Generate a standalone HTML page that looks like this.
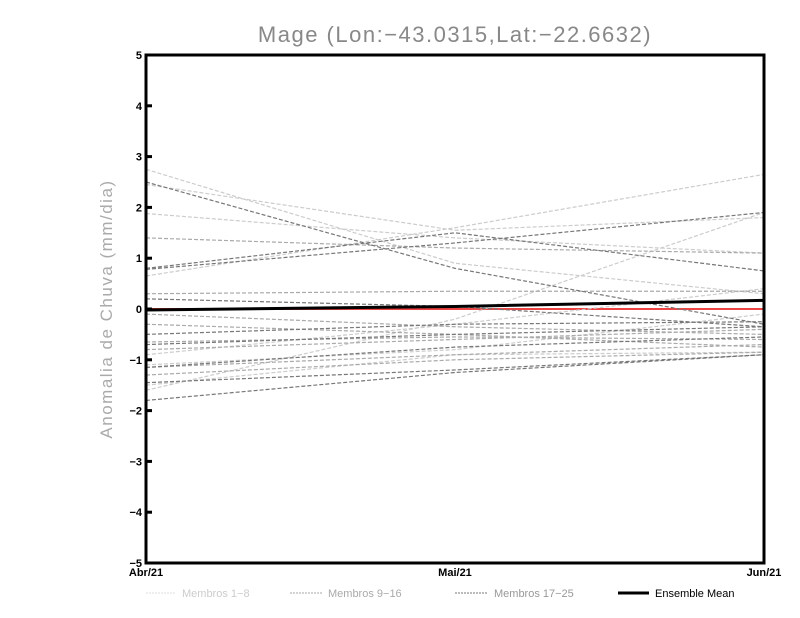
<!DOCTYPE html>
<html><head><meta charset="utf-8"><style>
body{margin:0;background:#fff;}
svg{display:block;font-family:"Liberation Sans",sans-serif;}
</style></head><body>
<svg id="chart" width="800" height="618">
<text x="455" y="42" text-anchor="middle" font-size="22" fill="#888" letter-spacing="1.5">Mage (Lon:−43.0315,Lat:−22.6632)</text>
<text transform="translate(112,309) rotate(-90)" text-anchor="middle" font-size="17" fill="#aaa" letter-spacing="1.5">Anomalia de Chuva (mm/dia)</text>
<g id="marks"></g>
<rect x="146" y="55" width="618" height="508" fill="none" stroke="#000" stroke-width="3"/>
<g id="axes"></g>
<g id="legend" font-size="11" fill="#bbb">
<line x1="146" y1="593" x2="176" y2="593" stroke="#ddd" stroke-dasharray="2,1"/>
<text x="182" y="597" fill="#ccc">Membros 1−8</text>
<line x1="290" y1="593" x2="322" y2="593" stroke="#aaa" stroke-dasharray="2,1"/>
<text x="328" y="597" fill="#aaa">Membros 9−16</text>
<line x1="455" y1="593" x2="488" y2="593" stroke="#777" stroke-dasharray="2,1"/>
<text x="494" y="597" fill="#999">Membros 17−25</text>
<line x1="618" y1="593" x2="649" y2="593" stroke="#000" stroke-width="3"/>
<text x="655" y="597" fill="#000">Ensemble Mean</text>
</g>
</svg>
<script>
const categories = ["Abr/21","Mai/21","Jun/21"];
const yTicks = [-5,-4,-3,-2,-1,0,1,2,3,4,5];
const members1to8 = [
 [2.75,0.9,0.3],[0.65,1.6,2.65],[1.88,1.4,1.1],[2.45,1.55,1.8],
 [-1.6,-0.2,1.9],[-0.9,-0.3,0.4],[-1.1,-0.8,-0.1],[-1.5,-0.9,-0.85]];
const members9to16 = [
 [1.4,1.2,1.1],[0.3,0.35,0.35],[-0.1,-0.35,-0.5],[-0.65,-0.55,-0.6],
 [-1.15,-0.9,-0.7],[-1.3,-1.0,-0.85],[-0.8,-0.6,-0.4],[-0.3,-0.5,-0.75]];
const members17to25 = [
 [2.5,0.8,-0.3],[0.8,1.5,0.75],[0.78,1.3,1.9],[0.2,0.05,-0.35],
 [-0.5,-0.3,-0.25],[-0.7,-0.5,-0.35],[-1.15,-0.75,-0.55],[-1.45,-1.2,-0.9],[-1.8,-1.25,-0.9]];
const ensembleMean = [-0.02,0.05,0.17];
const zeroLine = [0,0,0];

const X0=146,X1=764,Y0=563,Y1=55;
const xs=i=>X0+(X1-X0)*i/(categories.length-1);
const ys=v=>Y0-(v+5)/10*(Y0-Y1);
const NS="http://www.w3.org/2000/svg";
const marks=document.getElementById('marks'), axes=document.getElementById('axes');
function line(vals,color,width,dash,name){
  const p=document.createElementNS(NS,'polyline');
  p.setAttribute('points',vals.map((v,i)=>xs(i)+','+ys(v)).join(' '));
  p.setAttribute('fill','none');p.setAttribute('stroke',color);p.setAttribute('stroke-width',width);
  if(dash)p.setAttribute('stroke-dasharray',dash);
  
  
  marks.appendChild(p);
}
line(zeroLine,'#e44',2,null,'zero-line');
members1to8.forEach((m,i)=>line(m,'#ccc',1.2,'4,2','member-'+(i+1)));
members9to16.forEach((m,i)=>line(m,'#aaa',1.2,'4,2','member-'+(i+9)));
members17to25.forEach((m,i)=>line(m,'#777',1.2,'4,2','member-'+(i+17)));
line(ensembleMean,'#000',3,null,'ensemble-mean-line');
yTicks.forEach(t=>{
  const l=document.createElementNS(NS,'line');
  l.setAttribute('x1',X0);l.setAttribute('x2',X0+6);l.setAttribute('y1',ys(t));l.setAttribute('y2',ys(t));
  l.setAttribute('stroke','#000');l.setAttribute('stroke-width',3);
  
  
  axes.appendChild(l);
  const tx=document.createElementNS(NS,'text');
  tx.setAttribute('x',X0-4);tx.setAttribute('y',ys(t)+4);tx.setAttribute('text-anchor','end');
  tx.setAttribute('font-size','11');tx.setAttribute('font-weight','bold');
  tx.textContent=t<0?'−'+(-t):String(t);
  
  
  axes.appendChild(tx);
});
categories.forEach((c,i)=>{
  const tx=document.createElementNS(NS,'text');
  tx.setAttribute('x',xs(i));tx.setAttribute('y',576);
  tx.setAttribute('text-anchor','middle');
  tx.setAttribute('font-size','11');tx.setAttribute('font-weight','bold');
  tx.textContent=c;
  
  
  axes.appendChild(tx);
});
</script>
</body></html>
